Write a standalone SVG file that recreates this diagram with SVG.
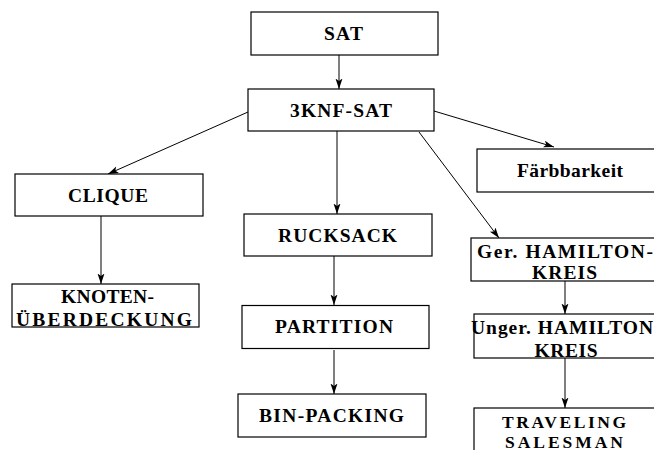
<svg xmlns="http://www.w3.org/2000/svg" width="654" height="450" viewBox="0 0 654 450">
<style>
rect{fill:#fff;stroke:#000;stroke-width:1.2}
text{font-family:"Liberation Serif","DejaVu Serif",serif;font-weight:bold;font-size:19.5px;fill:#000;text-anchor:middle}
.c line{stroke:#000;stroke-width:1;marker-end:url(#ah)}
.s{font-size:17.5px}
</style>
<defs>
<marker id="ah" markerWidth="11" markerHeight="8" refX="10.5" refY="3.5" orient="auto" markerUnits="userSpaceOnUse">
<path d="M0,0 L10.5,3.5 L0,7 L2.5,3.5 z" fill="#000"/>
</marker>
</defs>
<g class="c" id="connectors">
<line x1="339" y1="55" x2="339" y2="89"/>
<line x1="248" y1="112" x2="108" y2="174"/>
<line x1="337" y1="131" x2="337" y2="214"/>
<line x1="434" y1="111" x2="554" y2="147"/>
<line x1="419" y1="132" x2="499" y2="238"/>
<line x1="101" y1="216" x2="101" y2="284"/>
<line x1="334" y1="256" x2="334" y2="305"/>
<line x1="334" y1="350" x2="334" y2="394"/>
<line x1="565" y1="281" x2="565" y2="314"/>
<line x1="565" y1="358" x2="565" y2="408"/>
</g>
<g id="sat"><rect x="251" y="12" width="187" height="43"/><text x="343.5" y="40" textLength="39" lengthAdjust="spacing">SAT</text></g>
<g id="knf"><rect x="248" y="89" width="186" height="42"/><text x="341" y="117" textLength="102" lengthAdjust="spacing">3KNF-SAT</text></g>
<g id="clique"><rect x="15" y="174" width="188" height="42"/><text x="108" y="202" textLength="80" lengthAdjust="spacing">CLIQUE</text></g>
<g id="knoten"><rect x="12" y="284" width="187" height="43"/><text x="107.5" y="303" textLength="93" lengthAdjust="spacing">KNOTEN-</text><text x="104" y="325.5" textLength="176" lengthAdjust="spacing">ÜBERDECKUNG</text></g>
<g id="rucksack"><rect x="244" y="214" width="188" height="42"/><text x="337.5" y="242" textLength="119" lengthAdjust="spacing">RUCKSACK</text></g>
<g id="partition"><rect x="242" y="305.5" width="187" height="43"/><text x="334" y="333" textLength="118" lengthAdjust="spacing">PARTITION</text></g>
<g id="binpacking"><rect x="238" y="394" width="188" height="43"/><text x="331.5" y="421.5" textLength="145" lengthAdjust="spacing">BIN-PACKING</text></g>
<g id="faerb"><rect x="477" y="149" width="190" height="43"/><text x="570" y="177" textLength="106" lengthAdjust="spacing">Färbbarkeit</text></g>
<g id="gerham"><rect x="471" y="238" width="195" height="43"/><text x="565" y="257.5" textLength="176" lengthAdjust="spacing">Ger. HAMILTON-</text><text x="564.5" y="278.5" textLength="65" lengthAdjust="spacing">KREIS</text></g>
<g id="ungerham"><rect x="474" y="314" width="192" height="44"/><text x="471" y="334" style="text-anchor:start" textLength="182" lengthAdjust="spacing">Unger. HAMILTON</text><text x="566" y="357" textLength="63" lengthAdjust="spacing">KREIS</text></g>
<g id="tsp"><rect x="474" y="408" width="192" height="60"/><text class="s" x="564" y="427.5" textLength="124" lengthAdjust="spacing">TRAVELING</text><text class="s" x="564" y="447.5" textLength="118" lengthAdjust="spacing">SALESMAN</text></g>
</svg>
